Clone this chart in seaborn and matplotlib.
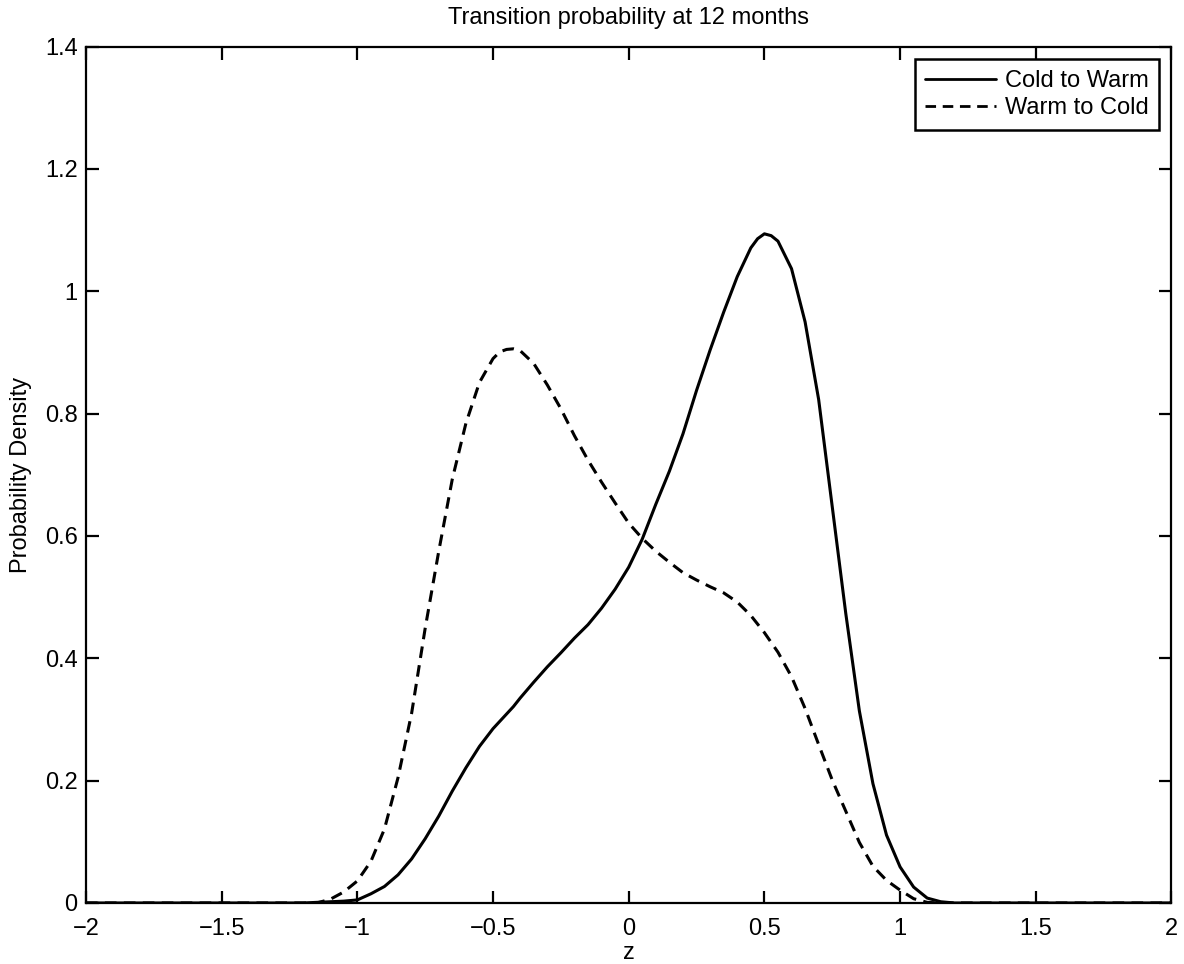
import numpy as np
import pandas as pd
import matplotlib
matplotlib.use("Agg")
import matplotlib.pyplot as plt
import seaborn as sns

# ---- data ----
z_values = [-2.00, -1.50, -1.20, -1.15, -1.10, -1.05, -1.00, -0.95, -0.90, -0.85, -0.80, -0.75,
            -0.70, -0.65, -0.60, -0.55, -0.50, -0.475, -0.45, -0.425, -0.40, -0.35, -0.30, -0.25,
            -0.20, -0.15, -0.10, -0.05, 0.00, 0.05, 0.10, 0.15, 0.20, 0.25,
            0.30, 0.35, 0.40, 0.45, 0.475, 0.50, 0.525, 0.55, 0.60, 0.65, 0.70, 0.75,
            0.80, 0.85, 0.90, 0.95, 1.00, 1.05, 1.10, 1.15, 1.20, 1.50, 2.00]

cold_to_warm = [0.0, 0.0, 0.0, 0.001, 0.002, 0.003, 0.005, 0.015, 0.027, 0.046, 0.072, 0.105,
                0.142, 0.183, 0.221, 0.256, 0.285, 0.297, 0.309, 0.321, 0.335, 0.361, 0.386, 0.409,
                0.433, 0.455, 0.482, 0.513, 0.549, 0.595, 0.652, 0.706, 0.767, 0.838,
                0.904, 0.966, 1.024, 1.071, 1.086, 1.094, 1.091, 1.082, 1.037, 0.950, 0.823, 0.648,
                0.473, 0.314, 0.195, 0.111, 0.059, 0.026, 0.008, 0.002, 0.0, 0.0, 0.0]

warm_to_cold = [0.0, 0.0, 0.0, 0.0, 0.006, 0.018, 0.036, 0.068, 0.121, 0.205, 0.310, 0.449,
                0.575, 0.693, 0.784, 0.851, 0.890, 0.901, 0.905, 0.906, 0.903, 0.882, 0.847, 0.808,
                0.764, 0.724, 0.688, 0.654, 0.621, 0.596, 0.575, 0.557, 0.540, 0.528,
                0.517, 0.507, 0.492, 0.470, 0.456, 0.442, 0.426, 0.410, 0.370, 0.318, 0.259, 0.201,
                0.150, 0.099, 0.060, 0.037, 0.021, 0.007, 0.001, 0.0, 0.0, 0.0, 0.0]

series_names = ["Cold to Warm", "Warm to Cold"]
x_ticks = [-2, -1.5, -1, -0.5, 0, 0.5, 1, 1.5, 2]
x_tick_labels = ["\u22122", "\u22121.5", "\u22121", "\u22120.5", "0", "0.5", "1", "1.5", "2"]
y_ticks = [0, 0.2, 0.4, 0.6, 0.8, 1, 1.2, 1.4]
y_tick_labels = ["0", "0.2", "0.4", "0.6", "0.8", "1", "1.2", "1.4"]

df = pd.DataFrame({
    "z": z_values * 2,
    "density": cold_to_warm + warm_to_cold,
    "series": [series_names[0]] * len(z_values) + [series_names[1]] * len(z_values),
})

sns.set_style("ticks")
plt.rcParams["font.family"] = ["Liberation Sans", "DejaVu Sans"]
plt.rcParams["axes.linewidth"] = 1.6
plt.rcParams["text.color"] = "black"
plt.rcParams["axes.labelcolor"] = "black"
plt.rcParams["xtick.color"] = "black"
plt.rcParams["ytick.color"] = "black"

FS = 17

fig = plt.figure(figsize=(11.84, 9.64), dpi=100)
ax = fig.add_axes([0.0726, 0.0633, 0.9168, 0.8883])

sns.lineplot(data=df, x="z", y="density", style="series", color="black",
             dashes={series_names[0]: "", series_names[1]: (3.8, 2.4)},
             linewidth=2.2, ax=ax, sort=False)

ax.set_xlim(-2, 2)
ax.set_ylim(0, 1.4)
ax.set_xticks(x_ticks)
ax.set_xticklabels(x_tick_labels)
ax.set_yticks(y_ticks)
ax.set_yticklabels(y_tick_labels)
ax.tick_params(direction="in", length=9, width=1.6, top=True, right=True,
               labelsize=FS, colors="black")
ax.tick_params(axis="x", pad=11)
ax.tick_params(axis="y", pad=6)
for sp in ax.spines.values():
    sp.set_visible(True)
    sp.set_color("black")

ax.set_xlabel("z", fontsize=FS, labelpad=1, color="black")
ax.set_ylabel("Probability Density", fontsize=FS, labelpad=9, color="black")
ax.set_title("Transition probability at 12 months", fontsize=FS, pad=16, color="black")

leg = ax.legend(loc="upper right", fontsize=FS, frameon=True, fancybox=False,
                edgecolor="black", framealpha=1, handlelength=2.97,
                borderaxespad=0.53, borderpad=0.45, labelspacing=0.22, handletextpad=0.38)
leg.get_frame().set_linewidth(1.8)
for t in leg.get_texts():
    t.set_color("black")
for h in leg.get_lines():
    h.set_linewidth(2.0)

fig.savefig("out.png", dpi=100)
